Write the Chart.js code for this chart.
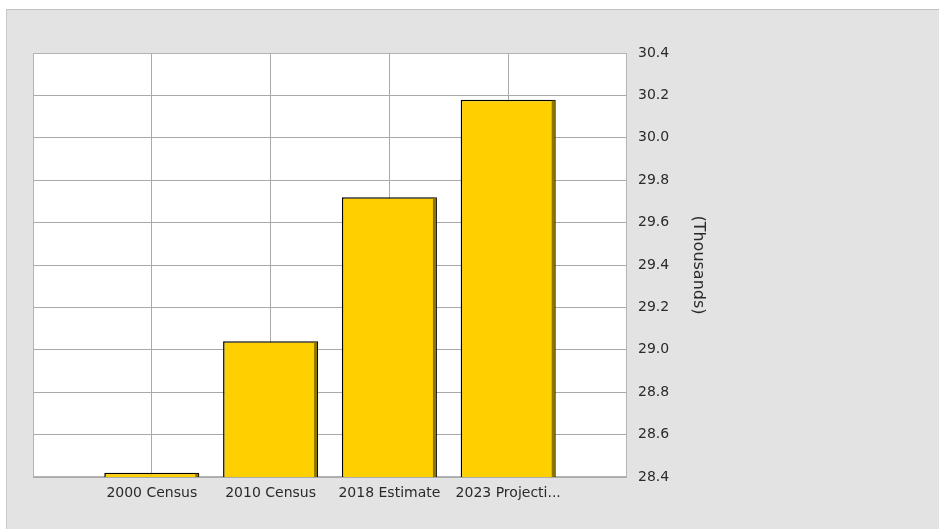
<!DOCTYPE html>
<html>
<head>
<meta charset="utf-8">
<script src="https://cdn.jsdelivr.net/npm/chart.js@4"></script>
<style>
    html, body { margin: 0; padding: 0; background: #ffffff; }
    #frame {
        position: absolute; left: 6px; top: 9px; width: 933px; height: 520px;
        background: #e3e3e4; border-top: 1px solid #c2c2c2; border-left: 1px solid #c8c8c8;
    }
    #wrap { position: absolute; left: 0; top: 0; width: 939px; height: 529px; }
</style>
</head>
<body>
<div id="frame"></div>
<div id="wrap"><canvas id="chart"></canvas></div>
<script>
// values in thousands
const categories = ["2000 Census", "2010 Census", "2018 Estimate", "2023 Projecti..."];
const population = [28.42, 29.04, 29.72, 30.18];
const yMin = 28.4, yMax = 30.4, yStep = 0.2;

// empty slot on each side so the bars sit on the grid lines
const labels = ["", ...categories, ""];
const values = [null, ...population, null];

const plotArea = {
    id: "plotArea",
    beforeDraw(chart) {
        const { ctx, chartArea: a } = chart;
        ctx.save();
        ctx.fillStyle = "#ffffff";
        ctx.fillRect(a.left, a.top, a.right - a.left, a.bottom - a.top);
        ctx.restore();
    },
    beforeDatasetsDraw(chart) {
        const { ctx, chartArea: a } = chart;
        ctx.save();
        ctx.strokeStyle = "#b4b4b4";
        ctx.lineWidth = 1;
        ctx.strokeRect(a.left + 0.5, a.top + 0.5, a.right - a.left - 1, a.bottom - a.top - 1);
        ctx.restore();
    },
    afterDatasetsDraw(chart) {
        // dark bevel on the right side of every bar
        const { ctx, chartArea: a } = chart;
        ctx.save();
        ctx.beginPath();
        ctx.rect(a.left, a.top, a.right - a.left, a.bottom - a.top);
        ctx.clip();
        ctx.fillStyle = "#8c7600";
        chart.getDatasetMeta(0).data.forEach((bar, i) => {
            if (values[i] == null) return;
            const p = bar.getProps(["x", "y", "width", "base"], true);
            const right = p.x + p.width / 2;
            const bottom = Math.min(p.base, a.bottom);
            ctx.fillRect(right - 4, p.y + 1, 3, bottom - p.y - 1);
        });
        ctx.restore();
    }
};

new Chart(document.getElementById("chart"), {
    type: "bar",
    data: {
        labels: labels,
        datasets: [{
            data: values,
            backgroundColor: "#ffd000",
            borderColor: "#000000",
            borderWidth: 1.5,
            barPercentage: 0.8,
            categoryPercentage: 1
        }]
    },
    options: {
        responsive: true,
        maintainAspectRatio: false,
        animation: false,
        layout: { padding: { left: 33, top: 53, right: 222, bottom: 22 } },
        plugins: { legend: { display: false }, tooltip: { enabled: false } },
        scales: {
            x: {
                offset: false,
                grid: {
                    offset: false,
                    color: ctx => (ctx.index === 0 || ctx.index === labels.length - 1) ? "rgba(0,0,0,0)" : "#a9a9a9",
                    drawTicks: false
                },
                border: { display: false },
                ticks: {
                    autoSkip: false, maxRotation: 0, padding: 8,
                    color: "#2a2a2a", font: { family: "DejaVu Sans", size: 14 }
                },
                afterFit: s => { s.height = 30; }
            },
            y: {
                position: "right",
                min: yMin,
                max: yMax,
                grid: { color: "#a9a9a9", drawTicks: false },
                border: { display: false },
                ticks: {
                    stepSize: yStep, padding: 11,
                    color: "#2a2a2a", font: { family: "DejaVu Sans", size: 14 },
                    callback: v => Number(v).toFixed(1)
                },
                title: {
                    display: true, text: "(Thousands)", color: "#2a2a2a",
                    font: { family: "DejaVu Sans", size: 16 },
                    padding: { top: 9, bottom: 0 }
                },
                afterFit: s => { s.width = 90; }
            }
        }
    },
    plugins: [plotArea]
});
</script>
</body>
</html>
